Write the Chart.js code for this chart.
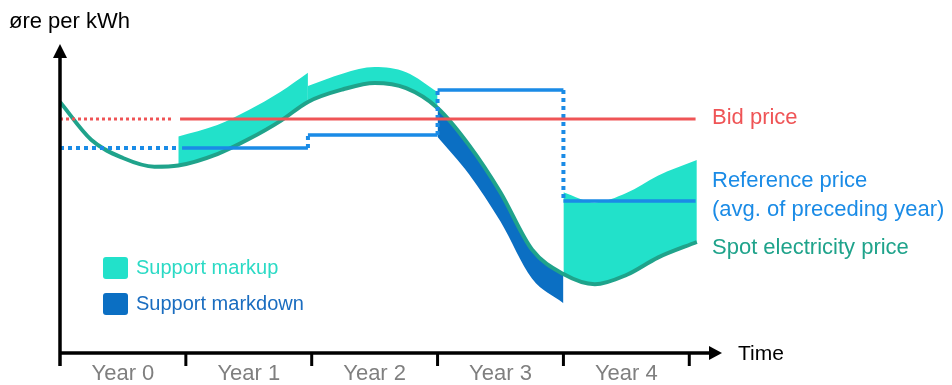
<!DOCTYPE html>
<html>
<head>
<meta charset="utf-8">
<script src="https://cdn.jsdelivr.net/npm/chart.js@4/dist/chart.umd.min.js"></script>
<style>
  html, body { margin: 0; padding: 0; background: #ffffff; }
  canvas { display: block; }
</style>
</head>
<body>
<canvas id="c" width="952" height="385"></canvas>
<script>
// Time axis: one category per year
const years = ['Year 0', 'Year 1', 'Year 2', 'Year 3', 'Year 4'];

// Fixed bid price (øre per kWh)
const bidPrice = 78;

// Reference price for each year = average spot price of the preceding year
const referencePrice = [68.3, 68.3, 72.7, 87.7, 50.7];

// Spot electricity price over time (time in years)
const spotTime  = [0, 0.25, 0.5, 0.75, 0.94, 1.25, 1.5, 1.75, 1.97, 2.25, 2.5, 2.75, 3.0, 3.25, 3.5, 3.75, 4.0, 4.25, 4.5, 4.75, 5.06];
const spotPrice = [83.7, 71.0, 65.0, 62.1, 62.5, 66.3, 71.3, 77.3, 83.7, 87.9, 90.0, 88.3, 81.7, 69.3, 53.5, 34.5, 26.3, 22.9, 26.0, 31.8, 37.0];

// Settlement periods in which support applies (year index, start, end)
const supportYear  = [1, 2, 3, 4];
const supportStart = [0.94, 1.97, 3.0, 4.0];
const supportEnd   = [1.97, 3.0, 4.0, 5.06];

// Start/end of the solid reference price line in each year
const refStart = [0.97, 1.97, 3.0, 4.0];
const refEnd   = [1.97, 3.0, 4.0, 5.05];

const RED = '#ef5456';
const BLUE = '#1a8be6';
const SPOT = '#1fa38b';
const MARKUP = '#22e1ca';
const MARKDOWN = '#0b6fc3';
const FONT = "'Liberation Sans', Arial, sans-serif";

const spotPoints = spotTime.map((t, i) => ({ x: t, y: spotPrice[i] }));

// Solid reference segments (years 1–4), separated by gaps
const refSolid = [];
supportYear.forEach((yr, i) => {
  refSolid.push({ x: refStart[i], y: referencePrice[yr] });
  refSolid.push({ x: refEnd[i], y: referencePrice[yr] });
  refSolid.push({ x: refEnd[i], y: null });
});

// Dotted reference: year 0 plus the vertical steps between years
const refDotted = [
  { x: 0, y: referencePrice[0] }, { x: 0.94, y: referencePrice[0] }, { x: 0.94, y: null },
  { x: 1.97, y: referencePrice[1] }, { x: 1.97, y: referencePrice[2] }, { x: 1.97, y: null },
  { x: 3.0, y: referencePrice[2] }, { x: 3.0, y: referencePrice[3] }, { x: 3.0, y: null },
  { x: 4.0, y: referencePrice[3] }, { x: 4.0, y: referencePrice[4] }
];

const SPOT_INDEX = 4;

const datasets = [
  { data: [{ x: 0.954, y: bidPrice }, { x: 5.05, y: bidPrice }], borderColor: RED, borderWidth: 3 },
  { data: [{ x: 0, y: bidPrice }, { x: 0.90, y: bidPrice }], borderColor: RED, borderWidth: 3, borderDash: [3, 3] },
  { data: refSolid, borderColor: BLUE, borderWidth: 3.5, spanGaps: false },
  { data: refDotted, borderColor: BLUE, borderWidth: 4, borderDash: [4, 4], spanGaps: false },
  { data: spotPoints, borderColor: SPOT, borderWidth: 4, cubicInterpolationMode: 'monotone' }
];

// Spot price plus support (bid − reference) for each year: markup above, markdown below
supportYear.forEach((yr, i) => {
  const support = bidPrice - referencePrice[yr];
  const pts = [];
  spotTime.forEach((t, j) => {
    if (t >= supportStart[i] - 1e-9 && t <= supportEnd[i] + 1e-9) pts.push({ x: t, y: spotPrice[j] + support });
  });
  datasets.push({
    data: pts,
    borderColor: 'transparent',
    borderWidth: 0,
    cubicInterpolationMode: 'monotone',
    backgroundColor: support >= 0 ? MARKUP : MARKDOWN,
    fill: { target: SPOT_INDEX }
  });
});

// Axes with arrows, year ticks, axis captions, line labels and the legend
const decorations = {
  id: 'decorations',
  afterDatasetsDraw(chart) {
    const { ctx, chartArea: a, scales: { x: xs } } = chart;
    const x0 = a.left, yAxis = a.bottom;
    ctx.save();
    ctx.fillStyle = '#000';
    ctx.strokeStyle = '#000';
    ctx.lineCap = 'butt';

    // vertical axis
    ctx.lineWidth = 3.5;
    ctx.beginPath();
    ctx.moveTo(x0, yAxis + 13);
    ctx.lineTo(x0, a.top + 12);
    ctx.stroke();
    ctx.beginPath();
    ctx.moveTo(x0, a.top);
    ctx.lineTo(x0 - 7, a.top + 14);
    ctx.lineTo(x0 + 7, a.top + 14);
    ctx.closePath();
    ctx.fill();

    // horizontal axis
    ctx.beginPath();
    ctx.moveTo(x0, yAxis);
    ctx.lineTo(a.right - 11, yAxis);
    ctx.stroke();
    ctx.beginPath();
    ctx.moveTo(a.right, yAxis);
    ctx.lineTo(a.right - 13, yAxis - 7);
    ctx.lineTo(a.right - 13, yAxis + 7);
    ctx.closePath();
    ctx.fill();

    // year boundary ticks
    ctx.lineWidth = 3;
    for (let k = 1; k <= years.length; k++) {
      const px = xs.getPixelForValue(k);
      ctx.beginPath();
      ctx.moveTo(px, yAxis);
      ctx.lineTo(px, yAxis + 13);
      ctx.stroke();
    }

    // year labels
    ctx.font = '22px ' + FONT;
    ctx.textAlign = 'center';
    ctx.textBaseline = 'middle';
    ctx.fillStyle = '#7f7f7f';
    years.forEach((lbl, k) => ctx.fillText(lbl, xs.getPixelForValue(k + 0.5), yAxis + 21));

    // axis captions
    ctx.textAlign = 'left';
    ctx.fillStyle = '#000';
    ctx.font = '21px ' + FONT;
    ctx.fillText('Time', a.right + 16, yAxis + 1);
    ctx.font = '22px ' + FONT;
    ctx.fillText('øre per kWh', 9, 22);

    // line labels
    const lx = 712;
    ctx.font = '22px ' + FONT;
    ctx.fillStyle = RED;
    ctx.fillText('Bid price', lx, 118);
    ctx.fillStyle = BLUE;
    ctx.fillText('Reference price', lx, 181);
    ctx.fillText('(avg. of preceding year)', lx, 210);
    ctx.fillStyle = SPOT;
    ctx.fillText('Spot electricity price', lx, 248);

    // legend
    const box = (y, color) => {
      ctx.fillStyle = color;
      ctx.beginPath();
      ctx.roundRect(103, y, 25, 22, 3);
      ctx.fill();
    };
    ctx.font = '20px ' + FONT;
    box(257, MARKUP);
    ctx.fillStyle = '#2bdac5';
    ctx.fillText('Support markup', 136, 268);
    box(293, MARKDOWN);
    ctx.fillStyle = '#1a6dc0';
    ctx.fillText('Support markdown', 136, 304);

    ctx.restore();
  }
};

new Chart(document.getElementById('c'), {
  type: 'line',
  data: { datasets },
  options: {
    responsive: false,
    animation: false,
    events: [],
    layout: { padding: { left: 60, top: 44, right: 230, bottom: 32 } },
    scales: {
      x: { type: 'linear', min: 0, max: 5.26, display: false },
      y: { type: 'linear', min: 0, max: 103, display: false }
    },
    elements: { point: { radius: 0 }, line: { borderCapStyle: 'butt' } },
    plugins: { legend: { display: false }, tooltip: { enabled: false } }
  },
  plugins: [decorations]
});
</script>
</body>
</html>
